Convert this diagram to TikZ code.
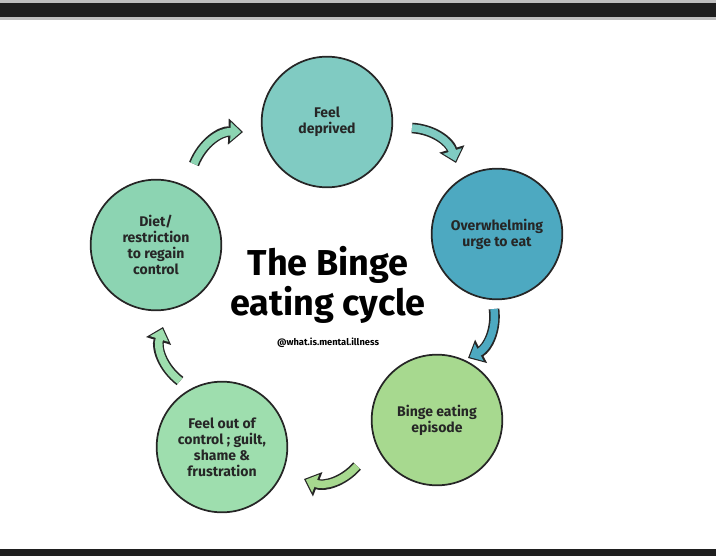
\documentclass[tikz,border=0pt]{standalone}
\usepackage{fontspec}
\setmainfont{Fira Sans}
\usetikzlibrary{arrows.meta}
\definecolor{cA}{HTML}{80CBC2}
\definecolor{cB}{HTML}{4DA9C1}
\definecolor{cC}{HTML}{A7D98F}
\definecolor{cD}{HTML}{9EDEAE}
\definecolor{cE}{HTML}{8CD4B2}
\tikzset{
  bub/.style={circle,draw=black!85,line width=1.3pt,minimum size=98pt,align=center,font=\fontsize{10.5}{12}\selectfont\bfseries,text=black!85,inner sep=1pt},
  arrout/.style={black!85,line width=8pt,-{Triangle[width=19pt,length=11pt]}},
  arrin/.style={#1,line width=5.6pt,shorten >=1.4pt,-{Triangle[width=14pt,length=8pt]}}
}
\begin{document}
\begin{tikzpicture}[x=0.75pt,y=-0.75pt]
\useasboundingbox (0,0) rectangle (716,556);
\fill[gray!50] (0,0) rectangle (716,20);
\fill[black!88] (0,3) rectangle (716,17);
\fill[black!88] (0,549) rectangle (716,556);
\node[bub,fill=cA] (fd) at (327,122) {Feel\\deprived};
\node[bub,fill=cB] (ou) at (497,234) {Overwhelming\\urge to eat};
\node[bub,fill=cC] (be) at (437,420) {Binge eating\\episode};
\node[bub,fill=cD] (fo) at (222,447) {Feel out of\\control ; guilt,\\shame \&\\frustration};
\node[bub,fill=cE] (dr) at (156,245) {Diet/\\restriction\\to regain\\control};
\node[font=\fontsize{27}{30}\selectfont\bfseries,align=center] (ti) at (328,285) {The Binge\\eating cycle};
\node[font=\fontsize{7}{8}\selectfont\bfseries] (ha) at (328,343) {@what.is.mental.illness};
\coordinate (a1s) at (412,128); \coordinate (a1e) at (456,163);
\coordinate (a2s) at (494,309); \coordinate (a2e) at (468,358);
\coordinate (a3s) at (357,466); \coordinate (a3e) at (304,479);
\coordinate (a4s) at (180,381); \coordinate (a4e) at (163,327);
\coordinate (a5s) at (194,164); \coordinate (a5e) at (243,132);
\foreach \s/\e/\c in {a1s/a1e/cA, a2s/a2e/cB, a3s/a3e/cC, a4s/a4e/cD, a5s/a5e/cE}{
  \draw[arrout] (\s) to[bend left=35] (\e);
  \draw[arrin=\c] (\s) to[bend left=35] (\e);
}
\end{tikzpicture}
\end{document}
